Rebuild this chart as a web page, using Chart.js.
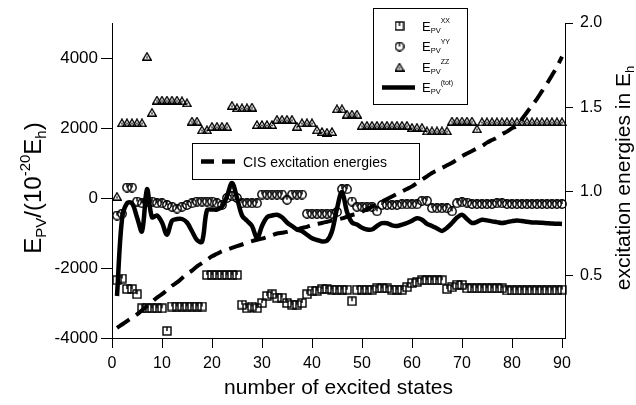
<!DOCTYPE html>
<html><head><meta charset="utf-8">
<script src="https://cdn.jsdelivr.net/npm/chart.js@4.4.0/dist/chart.umd.min.js"></script>
<style>html,body{margin:0;padding:0;background:#fff;}#wrap{width:636px;height:405px;}</style>
</head><body><div id="wrap"><canvas id="c" width="636" height="405"></canvas></div>
<script>
// ---------------- data ----------------
const states = [1,2,3,4,5,6,7,8,9,10,11,12,13,14,15,16,17,18,19,20,21,22,23,24,25,26,27,28,29,30,
  31,32,33,34,35,36,37,38,39,40,41,42,43,44,45,46,47,48,49,50,51,52,53,54,55,56,57,58,59,60,
  61,62,63,64,65,66,67,68,69,70,71,72,73,74,75,76,77,78,79,80,81,82,83,84,85,86,87,88,89,90];
const epvXX = [-2350,-2300,-2600,-2600,-2750,-3150,-3150,-3150,-3150,-3150,-3800,-3100,-3100,-3100,-3100,-3100,-3100,-3100,-2200,-2200,
  -2200,-2200,-2200,-2200,-2200,-3050,-3150,-3100,-3150,-3000,-2800,-2750,-2850,-2850,-3000,-3050,-3050,-3000,-2750,-2650,
  -2650,-2600,-2600,-2620,-2620,-2620,-2620,-2950,-2620,-2620,-2620,-2620,-2580,-2580,-2580,-2620,-2620,-2620,-2550,-2430,
  -2400,-2350,-2350,-2350,-2350,-2350,-2600,-2550,-2480,-2480,-2580,-2580,-2580,-2580,-2580,-2580,-2580,-2580,-2640,-2640,
  -2640,-2640,-2640,-2640,-2640,-2640,-2640,-2640,-2640,-2620];
const epvYY = [-500,-450,300,300,-100,-150,-100,-100,-150,-150,-200,-250,-300,-250,-200,-150,-100,-100,-100,-100,
  -150,-200,0,50,0,-150,-150,-150,-150,100,100,100,100,100,-50,100,100,100,-450,-450,
  -450,-450,-450,-450,-400,250,250,-100,-250,-250,-250,-250,-380,-200,-200,-200,-200,-180,-180,-180,
  -180,-80,-80,-290,-290,-290,-290,-380,-150,-120,-130,-170,-170,-170,-170,-170,-150,-150,-170,-170,
  -170,-170,-170,-170,-170,-170,-170,-170,-170,-170];
const epvZZ = [50,2150,2150,2150,2150,2150,4050,2450,2800,2800,2800,2800,2800,2780,2720,2200,2200,1950,1950,2050,
  2050,2050,2050,2650,2580,2580,2580,2600,2100,2100,2100,2100,2250,2250,2250,2250,2050,2150,2150,2150,
  1950,1900,1880,1900,2550,2550,2400,2400,2400,2080,2080,2080,2080,2080,2080,2080,2080,2080,2080,2020,
  2020,2020,1920,1920,1920,1920,1920,2200,2200,2200,2200,2200,1980,2180,2180,2180,2180,2180,2180,2180,
  2180,2180,2180,2180,2180,2180,2180,2180,2180,2180];
const epvTot = [-2800,-600,-150,-150,-550,-950,250,-550,-500,-700,-1050,-650,-600,-600,-700,-950,-1200,-1250,-350,-330,
  -330,-250,50,430,0,-500,-650,-800,-1150,-800,-550,-500,-480,-550,-700,-800,-900,-950,-1050,-1150,
  -1200,-1240,-1220,-950,-300,170,-400,-700,-760,-850,-900,-900,-800,-720,-720,-780,-800,-760,-714,-650,
  -580,-620,-740,-800,-870,-940,-850,-714,-560,-480,-600,-714,-680,-620,-640,-667,-690,-714,-690,-660,
  -643,-660,-680,-700,-700,-710,-720,-730,-735,-740];
const cisEnergies = [0.19,0.21,0.23,0.25,0.27,0.295,0.32,0.345,0.37,0.39,0.415,0.44,0.46,0.485,0.51,0.53,0.555,0.575,0.595,0.615,
  0.63,0.645,0.655,0.665,0.675,0.685,0.695,0.705,0.713,0.72,0.73,0.74,0.75,0.755,0.76,0.768,0.775,0.783,0.79,0.80,
  0.807,0.813,0.82,0.827,0.833,0.84,0.85,0.86,0.868,0.88,0.895,0.91,0.925,0.94,0.955,0.97,0.985,1.0,1.015,1.03,
  1.05,1.07,1.09,1.11,1.125,1.14,1.155,1.17,1.19,1.21,1.225,1.24,1.255,1.27,1.29,1.305,1.32,1.34,1.355,1.375,
  1.39,1.43,1.47,1.51,1.55,1.595,1.64,1.69,1.74,1.80];
const xTicks = [0,10,20,30,40,50,60,70,80,90];
const yTicks = [-4000,-2000,0,2000,4000];
const y2Ticks = [0.5,1.0,1.5,2.0];

// ---------------- styling ----------------
const FONT = "'Liberation Sans', Arial, Helvetica, sans-serif";
Chart.defaults.font.family = FONT;
Chart.defaults.color = '#000';

function makeMarker(kind) {
  const c = document.createElement('canvas');
  if (kind === 'square') { c.width = 10; c.height = 10; }
  else if (kind === 'circle') { c.width = 10; c.height = 10; }
  else { c.width = 10; c.height = 9; }
  const g = c.getContext('2d');
  g.strokeStyle = '#000'; g.fillStyle = '#000'; g.lineWidth = 1.4;
  if (kind === 'square') {
    g.strokeRect(1, 1, 8, 8);
    g.beginPath(); g.moveTo(5, 1); g.lineTo(5, 5); g.stroke();
  } else if (kind === 'circle') {
    g.beginPath(); g.arc(5, 5, 4.2, 0, Math.PI * 2); g.stroke();
    g.beginPath(); g.moveTo(5, 1); g.lineTo(5, 5); g.stroke();
  } else {
    g.beginPath(); g.moveTo(5, 1); g.lineTo(9.2, 8.2); g.lineTo(0.8, 8.2); g.closePath(); g.stroke();
    g.fillRect(4.3, 4.6, 1.4, 1.8);
  }
  return c;
}
const mkSquare = makeMarker('square');
const mkCircle = makeMarker('circle');
const mkTri = makeMarker('tri');

const pts = arr => states.map((s, i) => ({ x: s, y: arr[i] }));

function drawRich(ctx, parts, cx, cy, rot) {
  ctx.save();
  ctx.translate(cx, cy);
  ctx.rotate(rot);
  ctx.textAlign = 'left';
  ctx.textBaseline = 'alphabetic';
  ctx.fillStyle = '#000';
  let total = 0;
  parts.forEach(p => { ctx.font = p.s + 'px ' + FONT; p.w = ctx.measureText(p.t).width; total += p.w; });
  let x = -total / 2;
  parts.forEach(p => { ctx.font = p.s + 'px ' + FONT; ctx.fillText(p.t, x, p.dy || 0); x += p.w; });
  ctx.restore();
}

const overlay = {
  id: 'overlay',
  afterDraw(chart) {
    const ctx = chart.ctx;
    ctx.save();
    // left axis title
    drawRich(ctx, [
      { t: 'E', s: 24 }, { t: 'PV', s: 15, dy: 5 }, { t: '/(10', s: 24 },
      { t: '-20', s: 15, dy: -11 }, { t: 'E', s: 24 }, { t: 'h', s: 15, dy: 5 }, { t: ')', s: 24 }
    ], 41, 188, -Math.PI / 2);
    // right axis title
    drawRich(ctx, [{ t: 'excitation energies in E', s: 21 }, { t: 'h', s: 13, dy: 4 }], 630, 178, -Math.PI / 2);

    // main legend
    const lx = 373.5, ly = 8.5, lw = 94, lh = 96;
    ctx.fillStyle = '#fff'; ctx.fillRect(lx, ly, lw, lh);
    ctx.strokeStyle = '#000'; ctx.lineWidth = 1; ctx.strokeRect(lx, ly, lw, lh);
    const rows = [
      { m: mkSquare, sup: 'XX', y: 26 },
      { m: mkCircle, sup: 'YY', y: 46.5 },
      { m: mkTri, sup: 'ZZ', y: 67 },
      { m: null, sup: '(tot)', y: 87.5 }
    ];
    rows.forEach(r => {
      if (r.m) {
        ctx.drawImage(r.m, 399.5 - r.m.width / 2, r.y - r.m.height / 2);
      } else {
        ctx.beginPath(); ctx.lineWidth = 4.5; ctx.lineCap = 'butt';
        ctx.moveTo(382, r.y); ctx.lineTo(415, r.y); ctx.stroke();
      }
      ctx.fillStyle = '#000'; ctx.textAlign = 'left'; ctx.textBaseline = 'alphabetic';
      let x = 422;
      ctx.font = '13px ' + FONT; ctx.fillText('E', x, r.y + 4.6); x += ctx.measureText('E').width;
      ctx.font = '7.5px ' + FONT; ctx.fillText('PV', x, r.y + 6.5); x += ctx.measureText('PV').width;
      ctx.font = '7px ' + FONT; ctx.fillText(r.sup, x, r.y - 3);
    });

    // CIS legend box
    const bx = 192.5, by = 143.5, bw = 227, bh = 36;
    ctx.fillStyle = '#fff'; ctx.fillRect(bx, by, bw, bh);
    ctx.strokeStyle = '#000'; ctx.lineWidth = 1; ctx.strokeRect(bx, by, bw, bh);
    ctx.lineWidth = 4.5; ctx.lineCap = 'butt';
    ctx.beginPath(); ctx.moveTo(201, 161.5); ctx.lineTo(214, 161.5); ctx.stroke();
    ctx.beginPath(); ctx.moveTo(222, 161.5); ctx.lineTo(235, 161.5); ctx.stroke();
    ctx.fillStyle = '#000'; ctx.font = '14px ' + FONT; ctx.textAlign = 'left'; ctx.textBaseline = 'alphabetic';
    ctx.fillText('CIS excitation energies', 243, 167);
    ctx.restore();
  }
};

const scatterBase = { type: 'scatter', showLine: false, pointRadius: 4, pointHoverRadius: 4, clip: false, order: 2, yAxisID: 'y' };

new Chart(document.getElementById('c'), {
  data: {
    datasets: [
      Object.assign({ label: 'E_PV^XX', data: pts(epvXX), pointStyle: mkSquare }, scatterBase),
      Object.assign({ label: 'E_PV^YY', data: pts(epvYY), pointStyle: mkCircle }, scatterBase),
      Object.assign({ label: 'E_PV^ZZ', data: pts(epvZZ), pointStyle: mkTri }, scatterBase),
      { type: 'line', label: 'E_PV^(tot)', data: pts(epvTot), yAxisID: 'y', borderColor: '#000', borderWidth: 4.5,
        pointRadius: 0, tension: 0.35, fill: false, order: 0 },
      { type: 'line', label: 'CIS excitation energies', data: pts(cisEnergies), yAxisID: 'y2', borderColor: '#000',
        borderWidth: 4, borderDash: [15, 8], pointRadius: 0, cubicInterpolationMode: 'monotone', fill: false, order: 0 }
    ]
  },
  options: {
    responsive: false, animation: false, devicePixelRatio: 1,
    layout: { padding: { top: 23, left: 0, right: 0, bottom: 0 } },
    plugins: { legend: { display: false }, tooltip: { enabled: false } },
    scales: {
      x: {
        type: 'linear', position: 'bottom', min: 0, max: 90.6,
        afterBuildTicks: s => { s.ticks = xTicks.map(v => ({ value: v })); },
        afterFit: s => { s.height = 67; },
        ticks: { font: { size: 16 }, color: '#000', padding: 6, maxRotation: 0, autoSkip: false, callback: v => String(v) },
        grid: { display: true, drawOnChartArea: false, drawTicks: true, tickLength: 10, tickColor: '#000', tickWidth: 1 },
        border: { display: true, color: '#000', width: 1 },
        title: { display: true, text: 'number of excited states', font: { size: 21 }, color: '#000', padding: { top: 0, bottom: 4 } }
      },
      y: {
        type: 'linear', position: 'left', min: -4000, max: 5000,
        afterBuildTicks: s => { s.ticks = yTicks.map(v => ({ value: v })); },
        afterFit: s => { s.width = 112; },
        ticks: { font: { size: 17 }, color: '#000', padding: 3, autoSkip: false, callback: v => String(v) },
        grid: { display: true, drawOnChartArea: false, drawTicks: true, tickLength: 11, tickColor: '#000', tickWidth: 1 },
        border: { display: true, color: '#000', width: 1 }
      },
      y2: {
        type: 'linear', position: 'right', min: 0.13, max: 2.0,
        afterBuildTicks: s => { s.ticks = y2Ticks.map(v => ({ value: v })); },
        afterFit: s => { s.width = 71; },
        ticks: { font: { size: 16 }, color: '#000', padding: 7, autoSkip: false, callback: v => Number(v).toFixed(1) },
        grid: { display: true, drawOnChartArea: false, drawTicks: true, tickLength: 8, tickColor: '#000', tickWidth: 1 },
        border: { display: true, color: '#000', width: 1 }
      }
    }
  },
  plugins: [overlay]
});
</script>
</body></html>
